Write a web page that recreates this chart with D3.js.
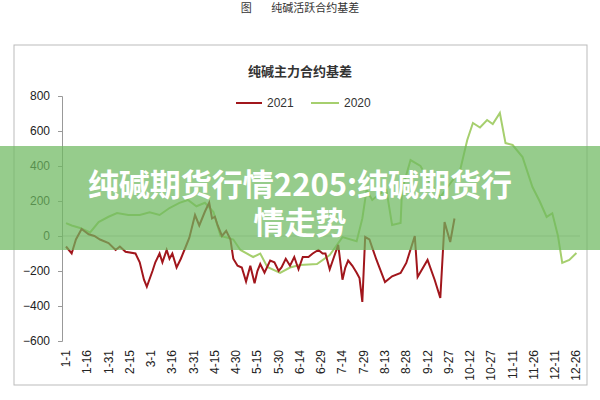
<!DOCTYPE html><html><head><meta charset="utf-8"><script src="https://cdn.jsdelivr.net/npm/d3@7"></script>
<style>body{margin:0;background:#fff}</style></head><body><svg id="c" width="600" height="400"></svg>
<script>
const tickLabels=["1-1","1-16","1-31","2-15","3-1","3-16","3-31","4-15","4-30","5-15","5-30","6-14","6-29","7-14","7-29","8-13","8-28","9-12","9-27","10-12","10-27","11-11","11-26","12-11","12-26"];
const yTicks=[800,600,400,200,0,-200,-400,-600];
const days2021=[0,4,7,11,16,20,24,30,35,38,42,49,52,55,57,61,63,66,68,71,73,75,78,81,85,87,91,94,98,101,103,105,107,110,113,116,118,121,124,127,130,133,135,137,140,144,147,150,152,155,158,161,164,167,171,174,178,181,183,186,189,192,195,197,199,202,205,207,209,211,214,219,225,230,236,240,246,248,255,260,264,267,271,274];
const vals2021=[-60,-100,-20,40,10,0,-20,-40,-80,-60,-90,-100,-150,-250,-290,-200,-150,-100,-150,-80,-130,-100,-180,-130,-50,-10,120,60,140,190,100,110,60,0,30,-20,-130,-170,-180,-260,-170,-270,-200,-160,-210,-140,-150,-200,-180,-130,-170,-120,-190,-120,-120,-100,-80,-100,-100,-190,-120,-50,-250,-180,-140,-170,-210,-240,-377,-6,-20,-137,-263,-230,-211,-154,0,-234,-137,-250,-354,80,-34,100];
const days2020=[0,4,10,17,23,30,36,44,52,59,66,73,80,86,92,98,104,109,114,118,123,132,137,142,151,158,165,177,186,195,205,209,212,216,221,226,230,236,237,243,250,257,264,271,278,283,287,292,297,301,306,310,315,322,329,334,339,343,347,350,355,360];
const vals2020=[74,60,46,20,80,110,131,120,120,135,120,160,189,206,170,190,137,0,-10,-20,-80,-120,-100,-177,-211,-180,-166,-160,-109,-6,-30,100,263,206,240,263,63,74,263,434,400,300,223,300,377,549,646,620,663,640,703,531,520,451,280,200,109,130,0,-154,-137,-97];
const svg=d3.select("#c");
svg.append("text").attr("x",300).attr("y",12).attr("text-anchor","middle").attr("font-family","Noto Sans CJK SC").attr("font-size",11).attr("fill","#333").style("white-space","pre").text("图        纯碱活跃合约基差");
svg.append("rect").attr("x",14).attr("y",45).attr("width",573).attr("height",340).attr("fill","#fff").attr("stroke","#bbb");
svg.append("text").attr("x",300).attr("y",76).attr("text-anchor","middle").attr("font-family","Noto Sans CJK SC").attr("font-size",13).attr("font-weight","bold").attr("fill","#333").text("纯碱主力合约基差");
const x=d3.scaleLinear().domain([0,359]).range([66,575]);
const y=d3.scaleLinear().domain([-600,800]).range([341,96]);
svg.append("line").attr("x1",62).attr("x2",580).attr("y1",y(0)).attr("y2",y(0)).attr("stroke","#ccc");
const ya=svg.append("g").attr("transform","translate(62,0)").call(d3.axisLeft(y).tickValues(yTicks).tickSize(4).tickPadding(8));
ya.selectAll("text").attr("font-family","Liberation Sans").attr("font-size",12).attr("fill","#222");
ya.selectAll("line,path").attr("stroke","#999");
const xa=svg.append("g").attr("transform","translate(0,347)");
tickLabels.forEach((t,i)=>{xa.append("text").attr("transform",`translate(${x(i*15)+4},${3}) rotate(-90)`).attr("text-anchor","end").attr("font-family","Liberation Sans").attr("font-size",12).attr("fill","#222").text(t);});
const line=d3.line().x(d=>x(d[0])).y(d=>y(d[1]));
svg.append("path").datum(days2020.map((d,i)=>[d,vals2020[i]])).attr("d",line).attr("fill","none").attr("stroke","#a6cf6e").attr("stroke-width",2);
svg.append("path").datum(days2021.map((d,i)=>[d,vals2021[i]])).attr("d",line).attr("fill","none").attr("stroke","#a1161c").attr("stroke-width",2);
const lg=svg.append("g");
lg.append("line").attr("x1",236).attr("x2",262).attr("y1",103).attr("y2",103).attr("stroke","#a1161c").attr("stroke-width",2);
lg.append("text").attr("x",267).attr("y",107).attr("font-family","Liberation Sans").attr("font-size",12).attr("fill","#333").text("2021");
lg.append("line").attr("x1",311).attr("x2",339).attr("y1",103).attr("y2",103).attr("stroke","#a6cf6e").attr("stroke-width",2);
lg.append("text").attr("x",344).attr("y",107).attr("font-family","Liberation Sans").attr("font-size",12).attr("fill","#333").text("2020");
svg.append("rect").attr("x",0).attr("y",146).attr("width",600).attr("height",104).attr("fill","rgba(110,185,95,0.72)");
svg.append("text").attr("x",300).attr("y",196).attr("text-anchor","middle").attr("font-family","Noto Sans CJK SC").attr("font-weight","bold").attr("font-size",31).attr("fill","#fff").text("纯碱期货行情2205:纯碱期货行");
svg.append("text").attr("x",300).attr("y",234).attr("text-anchor","middle").attr("font-family","Noto Sans CJK SC").attr("font-weight","bold").attr("font-size",31).attr("fill","#fff").text("情走势");
</script></body></html>
